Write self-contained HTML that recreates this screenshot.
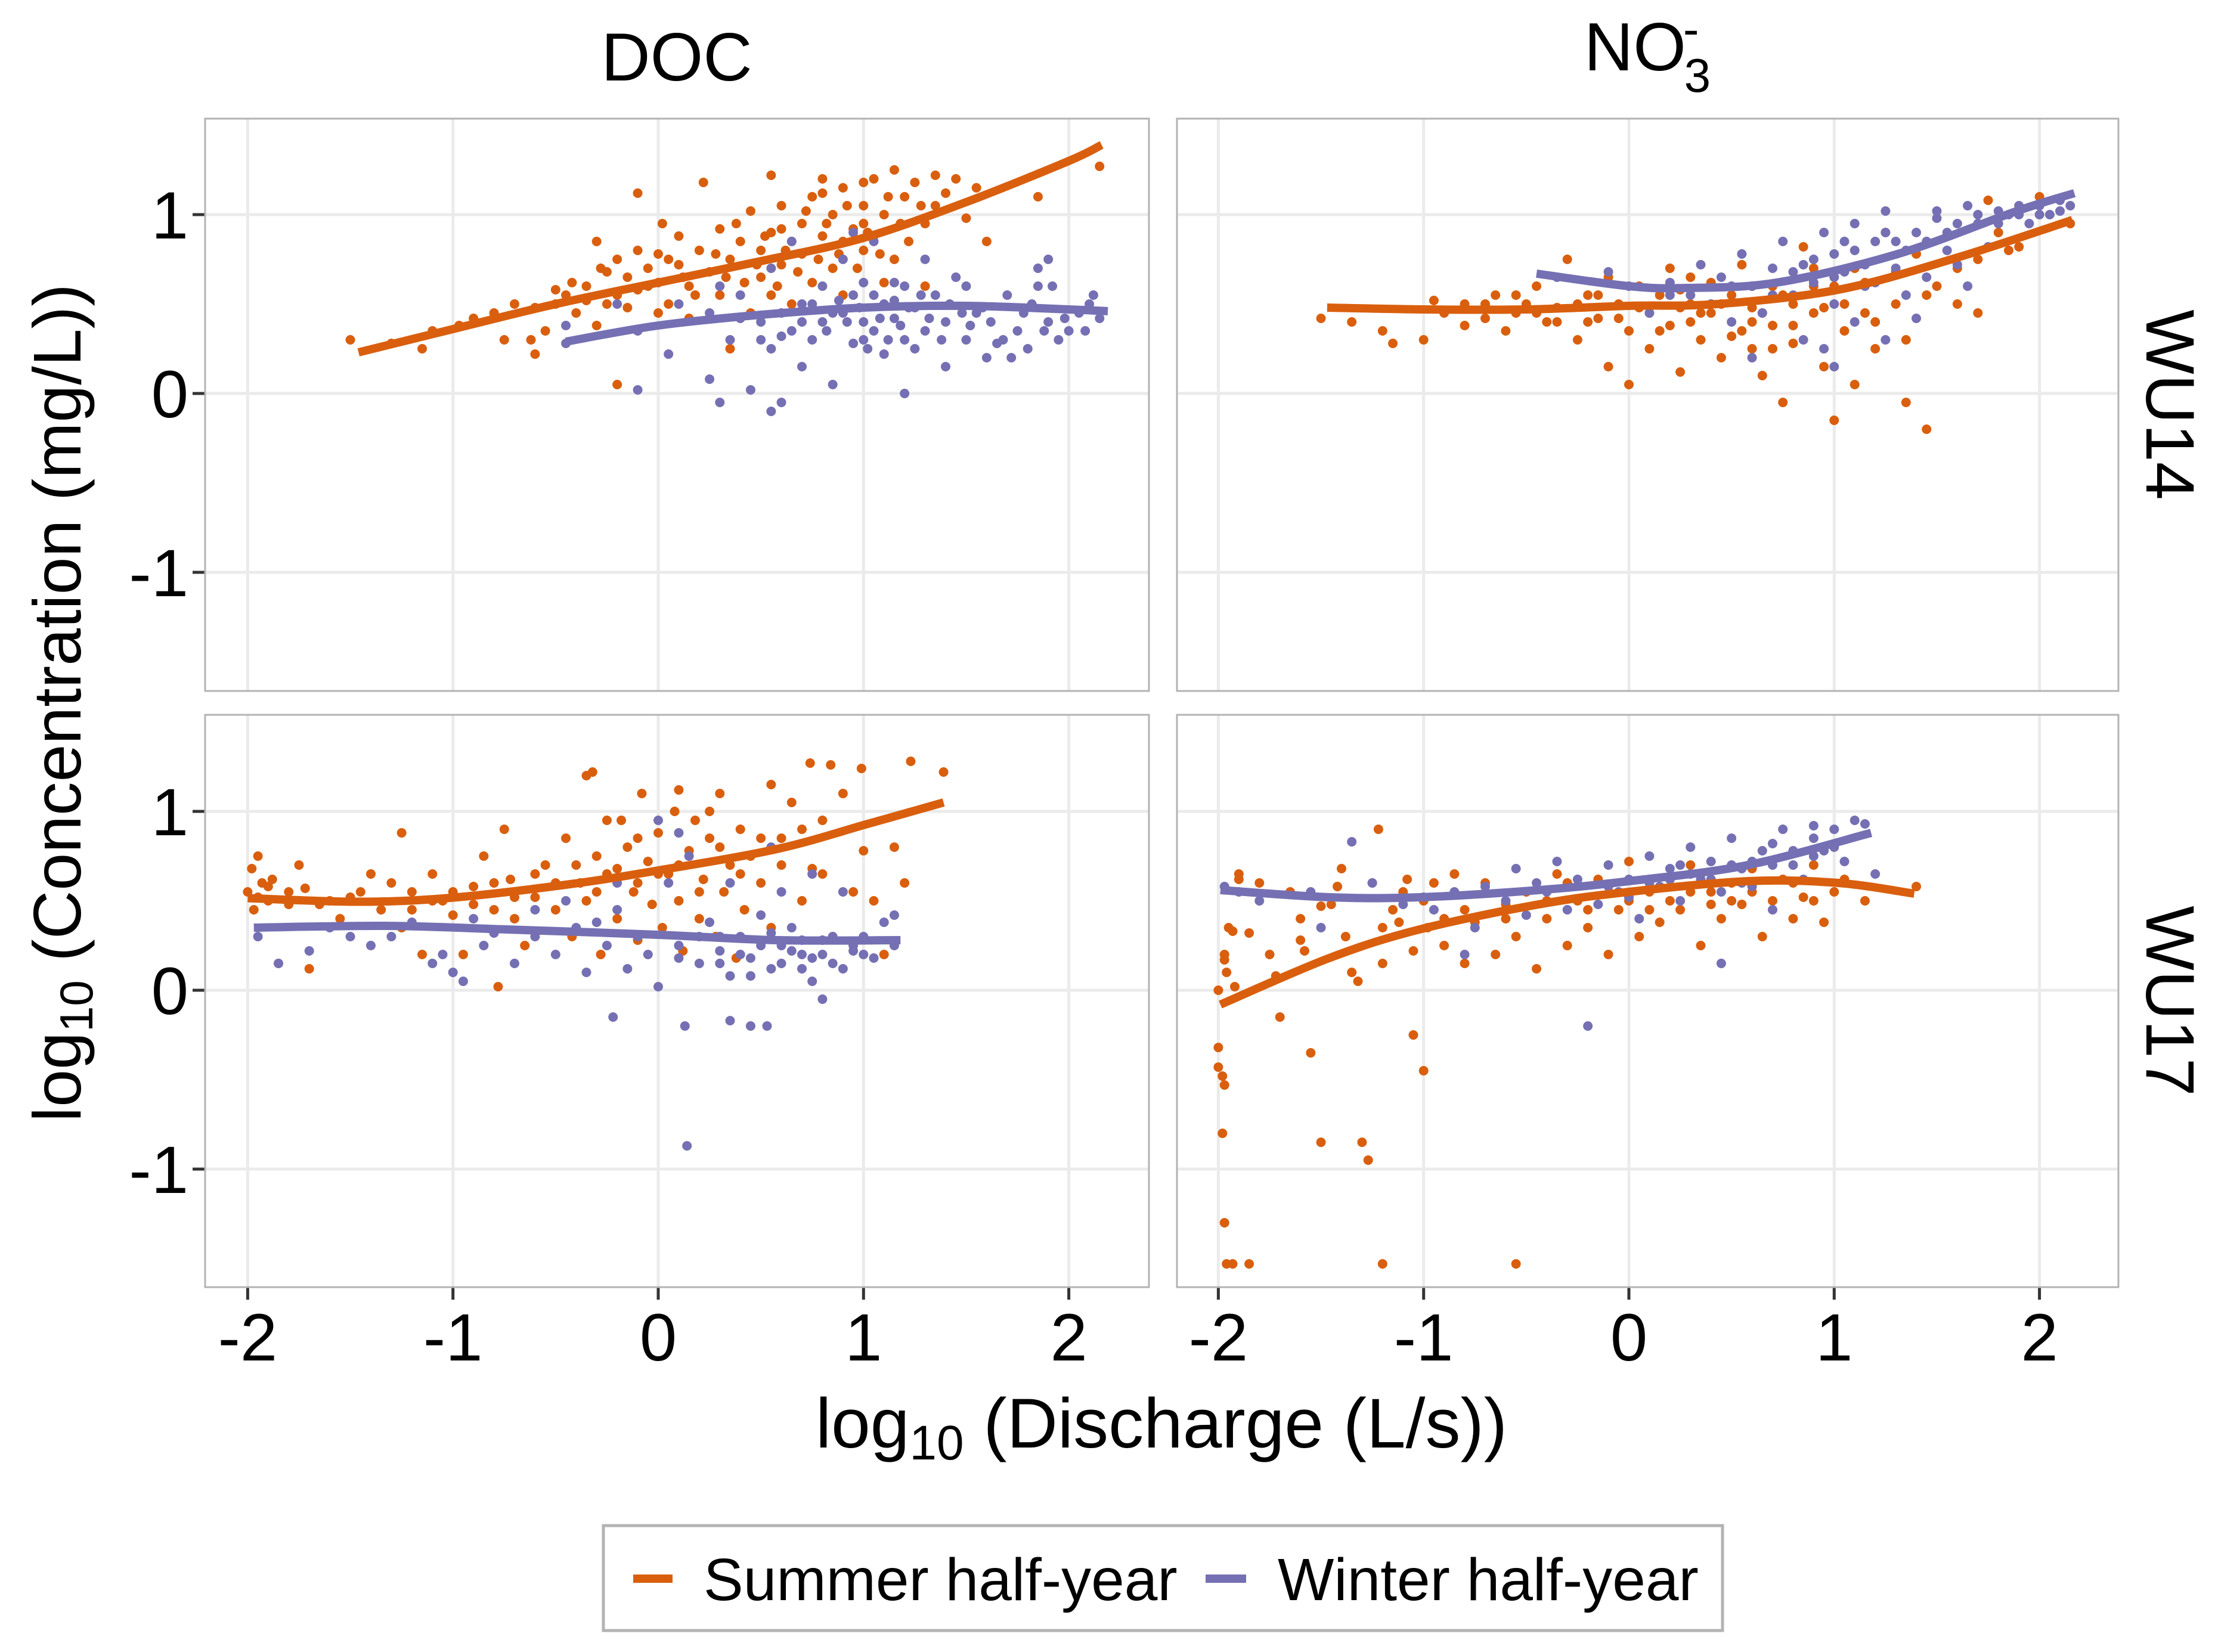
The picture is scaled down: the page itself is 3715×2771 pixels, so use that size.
<!DOCTYPE html>
<html><head><meta charset="utf-8"><style>
html,body{margin:0;padding:0;background:#fff;}
svg{display:block;font-family:"Liberation Sans",Arial,sans-serif;}
</style></head><body>
<svg id="chart" width="3715" height="2771" viewBox="0 0 3715 2771" xmlns="http://www.w3.org/2000/svg">
<rect width="3715" height="2771" fill="#fff"/>
<g id="panels"></g>
<text x="1135" y="135" font-size="114" text-anchor="middle">DOC</text>
<text x="2763" y="118" font-size="114" text-anchor="middle">NO<tspan font-size="80" dy="-42" dx="-5">-</tspan><tspan font-size="80" dy="78" dx="-25">3</tspan></text>
<text transform="translate(3600,679) rotate(90)" font-size="115" text-anchor="middle">WU14</text>
<text transform="translate(3600,1679) rotate(90)" font-size="115" text-anchor="middle">WU17</text>
<text transform="translate(135,1179) rotate(-90)" font-size="113" text-anchor="middle">log<tspan font-size="78" dy="20">10</tspan><tspan dy="-20"> (Concentration (mg/L))</tspan></text>
<text x="1948" y="2428" font-size="118" text-anchor="middle">log<tspan font-size="82" dy="20">10</tspan><tspan dy="-20"> (Discharge (L/s))</tspan></text>
<g>
<rect x="1012" y="2559" width="1877" height="176" fill="#fff" stroke="#B3B3B3" stroke-width="5"/>
<line x1="1062" y1="2648" x2="1128" y2="2648" stroke="#D95F0E" stroke-width="14"/>
<text x="1180" y="2684" font-size="100">Summer half-year</text>
<line x1="2022" y1="2648" x2="2090" y2="2648" stroke="#7570B3" stroke-width="14"/>
<text x="2143" y="2684" font-size="100">Winter half-year</text>
</g>
</svg>
<script>
const xTicks=[-2,-1,0,1,2];
const yTicks=[-1,0,1];
const xTickLabels=["-2","-1","0","1","2"];
const yTickLabels=["-1","0","1"];
const docWU14Summer=[[-1.5,0.3],[-1.3,0.28],[-1.15,0.25],[-1.1,0.35],[-0.97,0.38],[-0.8,0.45],[-0.75,0.3],[-0.62,0.3],[-0.6,0.48],[-0.55,0.35],[-0.5,0.5],[-0.45,0.55],[-0.42,0.62],[-0.4,0.45],[-0.35,0.6],[-0.3,0.85],[-0.28,0.7],[-0.25,0.5],[-0.2,0.55],[-0.2,0.75],[-0.15,0.65],[-0.1,0.8],[-0.1,0.58],[-0.05,0.7],[0.0,0.62],[0.02,0.95],[0.05,0.5],[0.1,0.72],[0.1,0.88],[0.15,0.6],[0.2,0.8],[0.22,1.18],[0.25,0.68],[0.3,0.55],[0.3,0.92],[0.35,0.75],[0.4,0.85],[0.42,0.62],[0.45,1.02],[0.5,0.8],[0.5,0.65],[0.55,0.9],[0.6,0.72],[0.6,1.05],[0.65,0.85],[0.65,0.5],[0.7,0.95],[0.7,0.78],[0.75,1.1],[0.75,0.62],[0.8,0.88],[0.85,1.0],[0.85,0.7],[0.9,1.15],[0.9,0.85],[0.95,0.92],[1.0,0.8],[1.0,1.05],[1.05,1.2],[1.05,0.88],[1.1,1.0],[1.15,0.75],[1.2,1.1],[1.25,1.18],[1.3,0.95],[1.35,1.05],[1.45,1.2],[1.55,1.15],[1.6,0.85],[1.85,1.1],[1.3,0.6],[0.15,0.42],[-0.6,0.22],[-0.2,0.05],[0.9,0.55],[2.15,1.27],[1.15,1.25],[0.55,1.22],[0.35,0.25],[-0.1,1.12],[0.0,0.78],[0.55,0.55],[1.0,0.95],[0.8,1.2],[-0.9,0.42],[-0.7,0.5],[-0.5,0.58],[-0.35,0.52],[-0.25,0.68],[-0.15,0.48],[-0.05,0.6],[0.05,0.75],[0.12,0.65],[0.18,0.55],[0.28,0.78],[0.33,0.65],[0.38,0.95],[0.48,0.72],[0.52,0.88],[0.58,0.6],[0.62,0.8],[0.68,0.68],[0.72,1.02],[0.78,0.75],[0.82,0.95],[0.88,0.78],[0.92,1.05],[0.97,0.7],[1.02,0.9],[1.08,0.78],[1.12,1.1],[1.18,0.95],[1.22,0.85],[1.28,1.05],[1.4,1.12],[1.5,0.98],[1.1,0.62],[0.45,0.45],[0.0,0.45],[-0.3,0.38],[0.8,1.12],[1.0,1.18],[0.6,0.92],[1.35,1.22]];
const docWU14Winter=[[-0.45,0.28],[-0.45,0.38],[-0.2,0.5],[-0.1,0.35],[-0.1,0.02],[0.05,0.22],[0.1,0.5],[0.25,0.45],[0.25,0.08],[0.3,0.6],[0.35,0.3],[0.4,0.55],[0.45,0.02],[0.5,0.4],[0.55,0.7],[0.55,0.25],[0.6,0.45],[0.65,0.35],[0.65,0.85],[0.7,0.5],[0.7,0.15],[0.75,0.3],[0.8,0.6],[0.8,0.4],[0.85,0.05],[0.9,0.45],[0.9,0.75],[0.95,0.28],[0.95,0.55],[1.0,0.4],[1.0,0.62],[1.05,0.35],[1.05,0.85],[1.1,0.5],[1.1,0.22],[1.15,0.42],[1.2,0.6],[1.2,0.3],[1.25,0.48],[1.3,0.75],[1.3,0.35],[1.35,0.55],[1.4,0.4],[1.4,0.15],[1.45,0.65],[1.5,0.3],[1.55,0.45],[1.6,0.2],[1.65,0.28],[1.7,0.55],[1.75,0.35],[1.8,0.25],[1.85,0.7],[1.9,0.4],[1.95,0.3],[2.0,0.35],[2.05,0.45],[2.1,0.5],[2.15,0.42],[1.9,0.75],[0.6,-0.05],[0.55,-0.1],[1.2,0.0],[0.3,-0.05],[1.5,0.6],[0.95,0.9],[0.85,0.45],[1.15,0.52],[0.75,0.5],[1.0,0.3],[0.82,0.35],[0.88,0.52],[0.92,0.4],[0.98,0.48],[1.02,0.25],[1.05,0.55],[1.08,0.42],[1.12,0.3],[1.15,0.62],[1.18,0.38],[1.22,0.48],[1.25,0.25],[1.28,0.55],[1.32,0.42],[1.38,0.3],[1.42,0.5],[1.48,0.45],[1.52,0.38],[1.58,0.48],[1.62,0.4],[1.68,0.3],[1.72,0.2],[1.78,0.45],[1.82,0.5],[1.88,0.35],[1.92,0.6],[1.98,0.42],[2.08,0.35],[2.12,0.55],[1.85,0.6],[0.4,0.42],[0.5,0.3],[0.7,0.4],[0.6,0.32]];
const no3WU14Summer=[[-1.5,0.42],[-1.35,0.4],[-1.2,0.35],[-1.15,0.28],[-1.0,0.3],[-0.95,0.52],[-0.8,0.38],[-0.8,0.5],[-0.7,0.42],[-0.65,0.55],[-0.6,0.35],[-0.55,0.45],[-0.5,0.5],[-0.45,0.6],[-0.4,0.4],[-0.35,0.48],[-0.3,0.75],[-0.25,0.3],[-0.2,0.55],[-0.15,0.42],[-0.1,0.65],[-0.1,0.15],[-0.05,0.5],[0.0,0.35],[0.0,0.05],[0.05,0.6],[0.1,0.45],[0.1,0.25],[0.15,0.55],[0.2,0.7],[0.2,0.38],[0.25,0.12],[0.3,0.5],[0.35,0.3],[0.4,0.62],[0.4,0.45],[0.45,0.2],[0.5,0.55],[0.55,0.35],[0.55,0.72],[0.6,0.25],[0.6,0.48],[0.65,0.1],[0.7,0.6],[0.7,0.38],[0.75,-0.05],[0.8,0.5],[0.8,0.28],[0.85,0.82],[0.9,0.45],[0.95,0.15],[1.0,0.6],[1.0,-0.15],[1.05,0.35],[1.1,0.7],[1.1,0.05],[1.15,0.45],[1.2,0.25],[1.25,0.9],[1.3,0.5],[1.35,-0.05],[1.35,0.3],[1.4,0.78],[1.45,-0.2],[1.5,0.6],[1.6,0.5],[1.7,0.45],[1.8,0.9],[1.9,0.82],[2.0,1.1],[2.15,0.95],[1.75,1.08],[0.9,0.7],[0.3,0.65],[-0.2,0.4],[0.6,0.4],[0.25,0.48],[-0.55,0.55],[-0.45,0.45],[-0.35,0.4],[-0.25,0.5],[-0.15,0.55],[-0.05,0.42],[0.05,0.48],[0.15,0.35],[0.25,0.58],[0.35,0.45],[0.45,0.5],[0.5,0.32],[0.6,0.6],[0.65,0.45],[0.75,0.55],[0.8,0.38],[0.9,0.6],[0.95,0.48],[1.05,0.5],[1.15,0.62],[1.2,0.4],[1.3,0.68],[1.45,0.55],[1.6,0.7],[1.7,0.75],[1.85,0.8],[0.7,0.25],[0.3,0.4],[-0.7,0.5],[-0.9,0.45]];
const no3WU14Winter=[[-0.35,0.65],[-0.1,0.68],[0.0,0.6],[0.1,0.45],[0.2,0.62],[0.3,0.55],[0.35,0.72],[0.4,0.5],[0.45,0.65],[0.5,0.4],[0.55,0.78],[0.6,0.6],[0.65,0.45],[0.7,0.7],[0.75,0.85],[0.8,0.55],[0.85,0.3],[0.85,0.72],[0.9,0.62],[0.95,0.9],[1.0,0.5],[1.0,0.78],[1.05,0.68],[1.1,0.95],[1.1,0.4],[1.15,0.6],[1.2,0.85],[1.25,1.02],[1.25,0.3],[1.3,0.7],[1.35,0.55],[1.4,0.9],[1.45,0.65],[1.5,0.98],[1.55,0.8],[1.6,0.72],[1.65,1.05],[1.7,0.95],[1.75,0.82],[1.8,1.02],[1.85,1.0],[1.9,1.05],[1.95,0.95],[2.0,1.05],[2.05,1.0],[2.1,1.08],[2.15,1.05],[0.6,0.2],[1.0,0.15],[1.4,0.42],[1.65,0.6],[0.95,0.25],[0.2,0.55],[0.5,0.6],[0.7,0.55],[0.8,0.68],[0.9,0.75],[1.0,0.65],[1.1,0.8],[1.15,0.72],[1.2,0.62],[1.3,0.85],[1.35,0.8],[1.45,0.85],[1.55,0.9],[1.6,0.95],[1.7,1.0],[1.8,0.95],[1.9,1.0],[2.0,1.0],[2.1,1.02],[1.5,1.02],[1.25,0.9],[1.05,0.85]];
const docWU17Summer=[[-2.0,0.55],[-1.98,0.68],[-1.97,0.45],[-1.95,0.75],[-1.93,0.6],[-1.9,0.5],[-1.88,0.62],[-1.85,0.15],[-1.8,0.48],[-1.75,0.7],[-1.72,0.57],[-1.7,0.12],[-1.6,0.5],[-1.55,0.4],[-1.45,0.55],[-1.4,0.65],[-1.35,0.45],[-1.3,0.6],[-1.25,0.35],[-1.2,0.55],[-1.15,0.2],[-1.1,0.65],[-1.05,0.5],[-1.0,0.42],[-0.95,0.2],[-0.9,0.58],[-0.85,0.75],[-0.8,0.45],[-0.78,0.02],[-0.72,0.62],[-0.7,0.4],[-0.65,0.25],[-0.6,0.52],[-0.55,0.7],[-0.5,0.45],[-0.45,0.85],[-0.42,0.3],[-0.38,0.6],[-0.35,0.5],[-0.3,0.75],[-0.28,0.2],[-0.25,0.65],[-0.2,0.4],[-0.18,0.95],[-0.15,0.8],[-0.12,0.55],[-0.1,0.28],[-0.08,1.1],[-0.05,0.72],[-0.03,0.48],[0.0,0.88],[0.02,0.35],[0.05,0.65],[0.08,1.0],[0.1,0.5],[0.12,0.22],[0.15,0.78],[0.18,0.95],[0.2,0.4],[0.22,0.62],[0.25,0.85],[0.28,0.3],[0.3,1.1],[0.32,0.55],[0.35,0.7],[0.38,0.18],[0.4,0.9],[0.42,0.45],[0.45,0.75],[0.5,0.6],[0.55,0.35],[0.6,0.85],[0.65,1.05],[0.7,0.5],[0.75,0.68],[0.8,0.95],[0.85,0.3],[0.9,1.1],[0.95,0.55],[1.0,0.78],[1.05,0.5],[1.1,0.2],[1.15,0.8],[1.2,0.6],[0.74,1.27],[0.84,1.26],[0.99,1.24],[1.23,1.28],[1.39,1.22],[0.55,1.15],[-0.35,1.2],[-0.32,1.22],[0.1,1.12],[-1.25,0.88],[-0.75,0.9],[-1.95,0.52],[-1.9,0.58],[-1.8,0.55],[-1.65,0.48],[-1.5,0.52],[-1.2,0.45],[-1.1,0.5],[-1.0,0.55],[-0.9,0.48],[-0.8,0.6],[-0.7,0.52],[-0.6,0.65],[-0.5,0.6],[-0.4,0.7],[-0.3,0.55],[-0.2,0.68],[-0.1,0.6],[0.0,0.65],[0.1,0.7],[0.2,0.55],[0.3,0.8],[0.4,0.65],[0.5,0.85],[0.6,0.7],[0.7,0.9],[0.8,0.65],[-0.1,0.85],[-0.25,0.95],[0.25,1.0]];
const docWU17Winter=[[-1.95,0.3],[-1.85,0.15],[-1.7,0.22],[-1.6,0.35],[-1.4,0.25],[-1.3,0.3],[-1.2,0.38],[-1.1,0.15],[-1.05,0.2],[-1.0,0.1],[-0.95,0.05],[-0.9,0.4],[-0.85,0.25],[-0.8,0.32],[-0.7,0.15],[-0.6,0.45],[-0.5,0.2],[-0.45,0.5],[-0.4,0.35],[-0.35,0.1],[-0.3,0.38],[-0.25,0.25],[-0.2,0.45],[-0.15,0.12],[-0.1,0.3],[-0.05,0.2],[0.0,0.02],[0.05,0.6],[0.1,0.25],[0.15,0.75],[0.2,0.15],[0.25,0.38],[0.3,0.22],[0.35,0.08],[0.4,0.3],[0.45,0.18],[0.5,0.42],[0.55,0.12],[0.6,0.25],[0.65,0.35],[0.7,0.2],[0.75,0.05],[0.8,0.28],[0.85,0.15],[0.9,0.55],[0.95,0.22],[1.0,0.3],[1.05,0.18],[1.1,0.38],[1.15,0.25],[0.75,0.65],[0.55,0.8],[0.0,0.95],[0.1,0.88],[-0.2,0.6],[0.8,-0.05],[0.53,-0.2],[0.35,-0.17],[0.13,-0.2],[0.14,-0.87],[-0.22,-0.15],[0.45,-0.2],[1.15,0.42],[0.6,0.55],[0.35,0.6],[0.7,0.12],[0.3,0.15],[0.3,0.3],[0.4,0.2],[0.5,0.25],[0.55,0.32],[0.6,0.15],[0.65,0.22],[0.7,0.28],[0.75,0.18],[0.8,0.2],[0.85,0.3],[0.9,0.12],[0.95,0.25],[1.0,0.2],[0.2,0.3],[0.1,0.18],[0.45,0.08],[-0.6,0.3],[-1.5,0.3]];
const no3WU17Summer=[[-2.0,0.0],[-2.0,-0.32],[-2.0,-0.43],[-1.98,-0.48],[-1.97,-0.53],[-1.98,-0.8],[-1.97,-1.3],[-1.96,-1.53],[-1.93,-1.53],[-1.85,-1.53],[-1.97,0.2],[-1.97,0.17],[-1.96,0.1],[-1.95,0.35],[-1.93,0.33],[-1.92,0.02],[-1.9,0.62],[-1.9,0.65],[-1.85,0.32],[-1.8,0.6],[-1.75,0.2],[-1.72,0.08],[-1.7,-0.15],[-1.65,0.55],[-1.6,0.28],[-1.58,0.22],[-1.55,-0.35],[-1.5,0.47],[-1.45,0.48],[-1.42,0.58],[-1.4,0.68],[-1.38,0.3],[-1.35,0.1],[-1.32,0.05],[-1.3,-0.85],[-1.25,0.6],[-1.22,0.9],[-1.2,-1.53],[-1.2,0.15],[-1.15,0.45],[-1.12,0.38],[-1.1,0.55],[-1.08,0.62],[-1.05,0.22],[-1.05,-0.25],[-1.0,-0.45],[-1.0,0.5],[-0.98,0.35],[-0.95,0.6],[-0.9,0.25],[-0.85,0.65],[-0.8,0.15],[-0.75,0.38],[-0.7,0.6],[-0.65,0.2],[-0.6,0.48],[-0.55,-1.53],[-0.55,0.3],[-0.5,0.55],[-0.45,0.12],[-0.4,0.4],[-0.35,0.65],[-0.3,0.25],[-0.25,0.5],[-0.2,0.35],[-0.15,0.62],[-0.1,0.2],[-0.05,0.45],[0.0,0.72],[0.05,0.3],[0.1,0.55],[0.15,0.38],[0.2,0.62],[0.25,0.45],[0.3,0.7],[0.35,0.25],[0.4,0.55],[0.45,0.4],[0.5,0.6],[0.55,0.48],[0.6,0.68],[0.65,0.3],[0.7,0.5],[0.75,0.62],[0.8,0.4],[0.85,0.52],[0.9,0.7],[0.95,0.38],[1.0,0.55],[1.05,0.62],[1.15,0.5],[1.4,0.58],[-1.27,-0.95],[-1.5,-0.85],[-0.8,0.45],[-0.6,0.4],[-0.4,0.5],[-0.2,0.45],[0.0,0.5],[0.1,0.45],[0.2,0.5],[0.3,0.55],[0.4,0.48],[0.5,0.5],[0.6,0.55],[0.8,0.6],[0.9,0.5],[-0.3,0.6],[-0.9,0.4],[-1.2,0.35],[-1.6,0.4]];
const no3WU17Winter=[[-1.97,0.58],[-1.9,0.55],[-1.8,0.5],[-1.55,0.55],[-1.5,0.35],[-1.35,0.83],[-1.25,0.6],[-1.1,0.48],[-1.0,0.52],[-0.95,0.45],[-0.85,0.55],[-0.8,0.2],[-0.75,0.35],[-0.7,0.58],[-0.6,0.5],[-0.55,0.68],[-0.5,0.42],[-0.45,0.6],[-0.4,0.55],[-0.35,0.72],[-0.3,0.45],[-0.2,-0.2],[-0.25,0.62],[-0.15,0.48],[-0.1,0.7],[-0.05,0.55],[0.0,0.62],[0.05,0.4],[0.1,0.75],[0.15,0.58],[0.2,0.68],[0.25,0.5],[0.3,0.8],[0.35,0.62],[0.4,0.72],[0.45,0.55],[0.5,0.85],[0.55,0.68],[0.6,0.58],[0.65,0.78],[0.7,0.45],[0.75,0.9],[0.8,0.7],[0.85,0.62],[0.9,0.85],[0.95,0.78],[1.0,0.9],[1.05,0.72],[1.1,0.95],[1.15,0.93],[1.2,0.65],[0.45,0.15],[0.7,0.82],[0.9,0.92],[0.1,0.6],[0.2,0.62],[0.3,0.65],[0.4,0.62],[0.5,0.7],[0.6,0.72],[0.7,0.7],[0.8,0.78],[0.9,0.75],[1.0,0.8],[0.55,0.6],[0.25,0.7],[-0.1,0.58],[0.0,0.52]];
const docWU14SummerFit=[[-1.46,0.23],[-1,0.36],[-0.5,0.5],[0,0.62],[0.5,0.74],[1,0.87],[1.5,1.07],[2,1.3],[2.16,1.39]];
const docWU14WinterFit=[[-0.45,0.29],[0,0.38],[0.5,0.44],[1,0.48],[1.5,0.49],[2,0.47],[2.19,0.46]];
const no3WU14SummerFit=[[-1.47,0.48],[-1,0.47],[-0.5,0.47],[0,0.49],[0.43,0.5],[1.02,0.58],[1.6,0.76],[2.16,0.97]];
const no3WU14WinterFit=[[-0.45,0.67],[0,0.6],[0.28,0.59],[0.72,0.62],[1.31,0.78],[1.89,1.02],[2.17,1.12]];
const docWU17SummerFit=[[-2.0,0.515],[-1.47,0.495],[-1.03,0.515],[-0.45,0.59],[0,0.67],[0.58,0.79],[1.02,0.93],[1.39,1.05]];
const docWU17WinterFit=[[-1.97,0.35],[-1.33,0.36],[-0.74,0.34],[0,0.31],[0.58,0.28],[1.18,0.28]];
const no3WU17SummerFit=[[-1.99,-0.08],[-1.46,0.18],[-1.02,0.34],[-0.44,0.48],[0,0.55],[0.58,0.61],[1.02,0.6],[1.39,0.54]];
const no3WU17WinterFit=[[-1.99,0.56],[-1.46,0.52],[-1.02,0.52],[-0.44,0.56],[0,0.61],[0.58,0.70],[1.18,0.88]];

const NS="http://www.w3.org/2000/svg";
const SUMMER="#D95F0E", WINTER="#7570B3";
const panels=[
 {name:"doc-wu14",left:344,right:1927,top:199,bottom:1159,x0:1104,y0:660,s:docWU14Summer,w:docWU14Winter,sf:docWU14SummerFit,wf:docWU14WinterFit,yaxis:true,xaxis:false},
 {name:"no3-wu14",left:1974,right:3553,top:199,bottom:1159,x0:2732,y0:660,s:no3WU14Summer,w:no3WU14Winter,sf:no3WU14SummerFit,wf:no3WU14WinterFit,yaxis:false,xaxis:false},
 {name:"doc-wu17",left:344,right:1927,top:1199,bottom:2159,x0:1104,y0:1661,s:docWU17Summer,w:docWU17Winter,sf:docWU17SummerFit,wf:docWU17WinterFit,yaxis:true,xaxis:true},
 {name:"no3-wu17",left:1974,right:3553,top:1199,bottom:2159,x0:2732,y0:1661,s:no3WU17Summer,w:no3WU17Winter,sf:no3WU17SummerFit,wf:no3WU17WinterFit,yaxis:false,xaxis:true}
];
const XU=344.3, YU=300;
function mk(tag,attrs,parent){const e=document.createElementNS(NS,tag);for(const k in attrs)e.setAttribute(k,attrs[k]);parent.appendChild(e);return e;}
const root=document.getElementById("panels");
panels.forEach((p,i)=>{
 const xs=v=>p.x0+v*XU, ys=v=>p.y0-v*YU;
 const g=mk("g",{},root);
 
 
 mk("rect",{x:p.left,y:p.top,width:p.right-p.left,height:p.bottom-p.top,fill:"#fff"},g);
 mk("clipPath",{id:"clip"+i},g).appendChild(document.createElementNS(NS,"rect"));
 const cr=g.querySelector("clipPath rect");cr.setAttribute("x",p.left);cr.setAttribute("y",p.top);cr.setAttribute("width",p.right-p.left);cr.setAttribute("height",p.bottom-p.top);
 xTicks.forEach((t,j)=>{const l=mk("line",{x1:xs(t),x2:xs(t),y1:p.top,y2:p.bottom,stroke:"#EBEBEB","stroke-width":5},g);
  
  
  if(p.xaxis){mk("line",{x1:xs(t),x2:xs(t),y1:p.bottom,y2:p.bottom+21,stroke:"#333","stroke-width":5},g);
   const tx=mk("text",{x:xs(t),y:2282,"font-size":112,"text-anchor":"middle"},g);tx.textContent=xTickLabels[j];
   
   }
 });
 yTicks.forEach((t,j)=>{const l=mk("line",{x1:p.left,x2:p.right,y1:ys(t),y2:ys(t),stroke:"#EBEBEB","stroke-width":5},g);
  
  
  if(p.yaxis){mk("line",{x1:p.left-21,x2:p.left,y1:ys(t),y2:ys(t),stroke:"#333","stroke-width":5},g);
   const tx=mk("text",{x:316,y:ys(t)+40,"font-size":112,"text-anchor":"end"},g);tx.textContent=yTickLabels[j];
   
   }
 });
 const pg=mk("g",{"clip-path":"url(#clip"+i+")"},g);
 [[p.s,SUMMER,"summer"],[p.w,WINTER,"winter"]].forEach(([arr,col,nm])=>{
  arr.forEach(d=>{const c=mk("circle",{cx:xs(d[0]),cy:ys(d[1]),r:8,fill:col},pg);
   
   });
 });
 [[p.sf,SUMMER,"summer"],[p.wf,WINTER,"winter"]].forEach(([arr,col,nm])=>{
  const pts=arr.map(d=>[xs(d[0]),ys(d[1])]);
  let dstr="M"+pts[0][0]+","+pts[0][1];
  for(let k=1;k<pts.length;k++){const p0=pts[k-1],p1=pts[k],pm=pts[k-2]||p0,pn=pts[k+1]||p1;
   const c1=[p0[0]+(p1[0]-pm[0])/6,p0[1]+(p1[1]-pm[1])/6],c2=[p1[0]-(pn[0]-p0[0])/6,p1[1]-(pn[1]-p0[1])/6];
   dstr+=" C"+c1[0]+","+c1[1]+" "+c2[0]+","+c2[1]+" "+p1[0]+","+p1[1];}
  const l=mk("path",{d:dstr,fill:"none",stroke:col,"stroke-width":14},pg);
  
  
 });
 const b=mk("rect",{x:p.left,y:p.top,width:p.right-p.left,height:p.bottom-p.top,fill:"none",stroke:"#B3B3B3","stroke-width":3},g);
 
 
});
</script>
</body></html>
